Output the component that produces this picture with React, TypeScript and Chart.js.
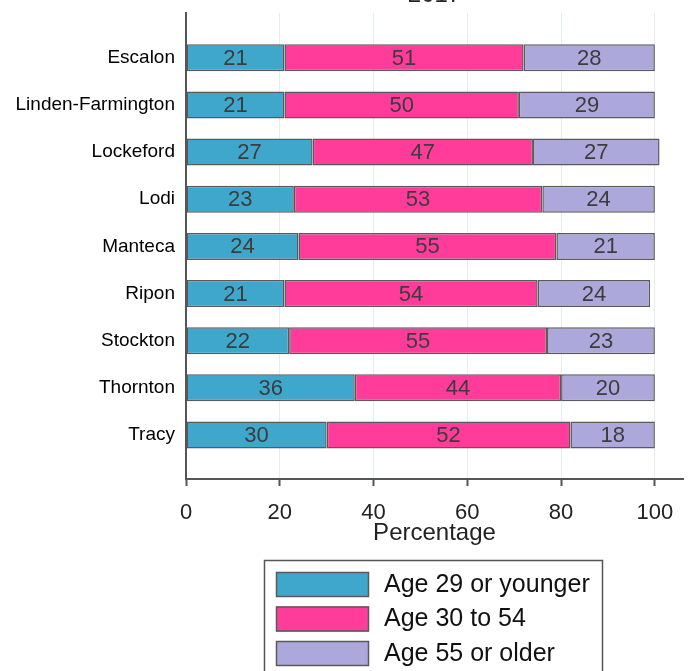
import React, { useEffect, useRef } from 'react';
import { Chart, registerables } from 'chart.js';

Chart.register(...registerables);

const categories = ['Escalon', 'Linden-Farmington', 'Lockeford', 'Lodi', 'Manteca', 'Ripon', 'Stockton', 'Thornton', 'Tracy'];
const age29OrYounger = [21, 21, 27, 23, 24, 21, 22, 36, 30];
const age30To54 = [51, 50, 47, 53, 55, 54, 55, 44, 52];
const age55OrOlder = [28, 29, 27, 24, 21, 24, 23, 20, 18];
const seriesLabels = ['Age 29 or younger', 'Age 30 to 54', 'Age 55 or older'];
const xTickValues = [0, 20, 40, 60, 80, 100];
const chartTitle = '2017';
const xAxisTitle = 'Percentage';

const OFFSET = 24;
const W = 691;
const H = 671 + OFFSET;
const FONT = "'Liberation Sans', Arial, sans-serif";
const colors = ['#3fa6cc', '#ff3c9a', '#aca8dc'];

const valueLabelPlugin = {
  id: 'valueLabels',
  afterDatasetsDraw(chart: any) {
    const ctx = chart.ctx;
    ctx.save();
    ctx.font = `22px ${FONT}`;
    ctx.fillStyle = '#3c3c3c';
    ctx.textAlign = 'center';
    ctx.textBaseline = 'middle';
    chart.data.datasets.forEach((d: any, k: number) => {
      const meta = chart.getDatasetMeta(k);
      meta.data.forEach((bar: any, i: number) => {
        const { x, base, y } = bar.getProps(['x', 'base', 'y'], true);
        ctx.fillText(String(d.data[i].x), (x + base) / 2, y + 1);
      });
    });
    ctx.restore();
  },
};

const boxedLegendPlugin = {
  id: 'boxedLegend',
  afterDraw(chart: any) {
    const ctx = chart.ctx;
    const left = 264.5;
    const right = 602.5;
    const top = 560.5 + OFFSET;
    ctx.save();
    ctx.strokeStyle = '#555';
    ctx.lineWidth = 1.5;
    ctx.strokeRect(left, top, right - left, H - top + 10);
    chart.data.datasets.forEach((d: any, k: number) => {
      const y = 572 + OFFSET + k * 34.5;
      ctx.fillStyle = d.backgroundColor;
      ctx.fillRect(276, y, 93, 25);
      ctx.strokeStyle = '#5a5a5a';
      ctx.lineWidth = 1.5;
      ctx.strokeRect(276.5, y + 0.5, 92, 24);
      ctx.fillStyle = '#111';
      ctx.font = `25px ${FONT}`;
      ctx.textAlign = 'left';
      ctx.textBaseline = 'middle';
      ctx.fillText(d.label, 384, y + 13);
    });
    ctx.restore();
  },
};

export default function App() {
  const ref = useRef<HTMLCanvasElement | null>(null);

  useEffect(() => {
    if (!ref.current) return;
    Chart.defaults.font.family = FONT;
    const series = [age29OrYounger, age30To54, age55OrOlder];
    const chart = new Chart(ref.current, {
      type: 'bar',
      data: {
        datasets: series.map((vals, k) => ({
          label: seriesLabels[k],
          data: vals.map((v, i) => ({ x: v, y: i })),
          backgroundColor: colors[k],
          borderColor: '#5a5a5a',
          borderWidth: 1.5,
          borderSkipped: false,
          barPercentage: 0.573,
          categoryPercentage: 1,
        })),
      },
      options: {
        indexAxis: 'y',
        animation: false,
        responsive: false,
        layout: { padding: { left: 0, right: 8, top: 0, bottom: 123 } },
        scales: {
          x: {
            type: 'linear',
            stacked: true,
            min: 0,
            max: 106,
            afterBuildTicks: (s: any) => {
              s.ticks = xTickValues.map((v) => ({ value: v }));
            },
            afterFit: (s: any) => {
              s.height = 69;
            },
            grid: { color: '#e4edf2', lineWidth: 1, drawTicks: true, tickLength: 7, tickColor: '#555', tickWidth: 2 },
            border: { display: true, color: '#555', width: 2 },
            ticks: { font: { size: 22 }, color: '#222', padding: 14 },
            title: { display: true, text: xAxisTitle, font: { size: 24 }, color: '#222', padding: { top: 0, bottom: 0 } },
          },
          y: {
            type: 'linear',
            stacked: true,
            reverse: true,
            offset: false,
            min: -0.955,
            max: 8.934,
            afterBuildTicks: (s: any) => {
              s.ticks = categories.map((_, i) => ({ value: i }));
            },
            afterFit: (s: any) => {
              s.width = 186;
            },
            grid: { display: false, drawTicks: false, offset: false },
            border: { display: true, color: '#555', width: 2 },
            ticks: {
              autoSkip: false,
              font: { size: 19 },
              color: '#000',
              padding: 11,
              callback: (v: any) => categories[v] ?? '',
            },
          },
        },
        plugins: {
          legend: { display: false },
          tooltip: { enabled: false },
          title: {
            display: true,
            text: chartTitle,
            fullSize: false,
            font: { size: 24, weight: 'normal' },
            color: '#222',
            padding: { top: 5, bottom: 3 },
          },
        },
      } as any,
      plugins: [valueLabelPlugin, boxedLegendPlugin],
    });
    return () => chart.destroy();
  }, []);

  return (
    <div style={{ position: 'absolute', left: 0, top: -OFFSET, width: W, height: H }}>
      <canvas ref={ref} width={W} height={H} />
    </div>
  );
}
